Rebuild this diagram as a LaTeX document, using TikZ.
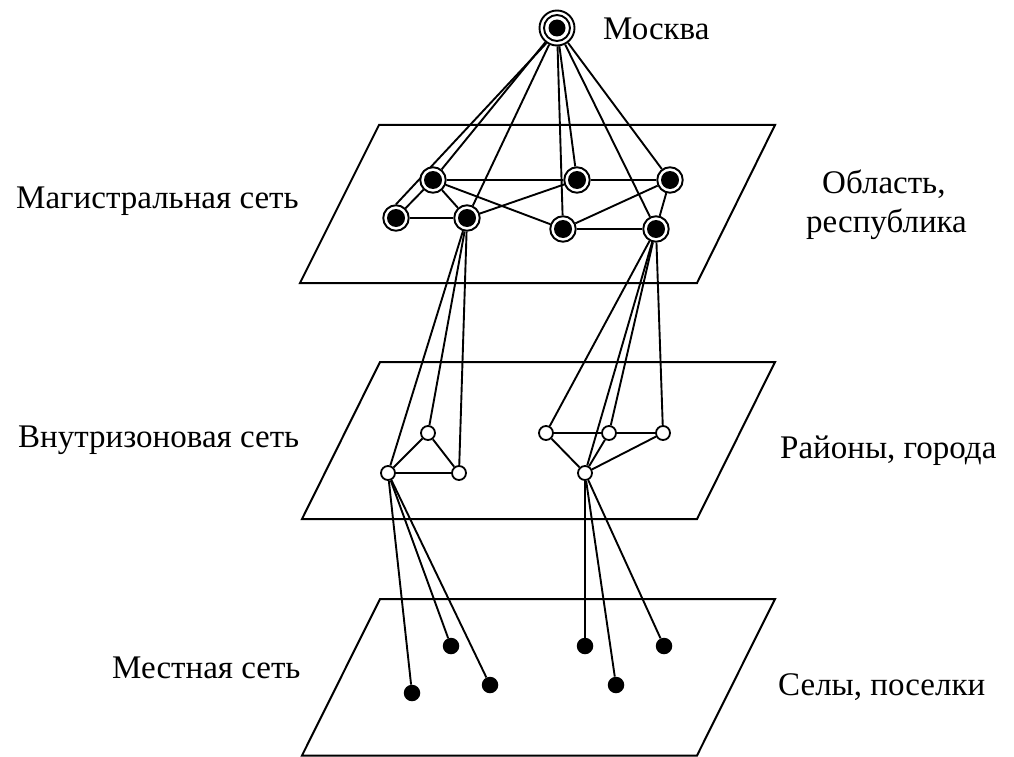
\documentclass[tikz,border=0pt]{standalone}
\usepackage{fontspec}
\setmainfont{Liberation Serif}
\pgfdeclarelayer{bg}
\pgfsetlayers{bg,main}
\begin{document}
\begin{tikzpicture}[x=1pt,y=-1pt,
  plane/.style={draw, line width=2pt, line join=miter},
  link/.style={line width=1.9pt},
  hub/.style={circle, draw, fill=white, line width=1.9pt, minimum size=35pt, inner sep=0pt,
    path picture={\draw[black, line width=1.9pt] (path picture bounding box.center) circle[radius=13pt];
                  \fill[black] (path picture bounding box.center) circle[radius=8.5pt];}},
  region/.style={circle, draw, fill=white, line width=1.9pt, minimum size=25.5pt, inner sep=0pt,
    path picture={\fill[black] (path picture bounding box.center) circle[radius=9pt];}},
  district/.style={circle, draw, fill=white, line width=1.8pt, minimum size=14pt, inner sep=0pt},
  village/.style={circle, fill=black, minimum size=16.5pt, inner sep=0pt},
  caption/.style={font=\fontsize{33}{39}\selectfont, anchor=base west, inner sep=0pt}
]
\useasboundingbox (0,0) rectangle (1014,757);

% three network levels
\draw[plane] (300,283) -- (697,283) -- (775,125) -- (379,125) -- cycle;
\draw[plane] (302,519) -- (697,519) -- (775,362) -- (380,362) -- cycle;
\draw[plane] (302,755.5) -- (697,755.5) -- (775,599) -- (380,599) -- cycle;

% Moscow
\node[hub] (msk) at (557,28) {};

% trunk network nodes
\node[region] (a1) at (433,180) {};
\node[region] (a2) at (396,218) {};
\node[region] (a3) at (467,218) {};
\node[region] (a4) at (577,180) {};
\node[region] (a5) at (670,180) {};
\node[region] (a6) at (563,229) {};
\node[region] (a7) at (656,229) {};

% intrazone network nodes
\node[district] (b1) at (388,473) {};
\node[district] (b2) at (428,433) {};
\node[district] (b3) at (459,473) {};
\node[district] (b4) at (546,433) {};
\node[district] (b5) at (609,433) {};
\node[district] (b6) at (663,433) {};
\node[district] (b7) at (585,473) {};

% local network nodes
\node[village] (c1) at (412,693) {};
\node[village] (c2) at (451,646) {};
\node[village] (c3) at (490,685) {};
\node[village] (c4) at (585,646) {};
\node[village] (c5) at (616,685) {};
\node[village] (c6) at (664,646) {};

\begin{pgfonlayer}{bg}
  % Moscow to the trunk network
  \draw[link] (msk) -- (a1);
  \draw[link] (msk.235) -- (a2.90);
  \draw[link] (msk) -- (a3);
  \draw[link] (msk) -- (a4);
  \draw[link] (msk) -- (a5);
  \draw[link] (msk) -- (a6);
  \draw[link] (msk) -- (a7);
  % trunk network links
  \draw[link] (a1) -- (a4);
  \draw[link] (a4) -- (a5);
  \draw[link] (a1) -- (a2);
  \draw[link] (a2) -- (a3);
  \draw[link] (a1) -- (a3);
  \draw[link] (a3) -- (a4);
  \draw[link] (a1) -- (a6);
  \draw[link] (a6) -- (a7);
  \draw[link] (a6) -- (a5);
  \draw[link] (a5) -- (a7);
  % trunk to intrazone
  \draw[link] (a3) -- (b1);
  \draw[link] (a3) -- (b2);
  \draw[link] (a3) -- (b3);
  \draw[link] (a7) -- (b4);
  \draw[link] (a7) -- (b7);
  \draw[link] (a7) -- (b5);
  \draw[link] (a7) -- (b6);
  % intrazone links
  \draw[link] (b1) -- (b2);
  \draw[link] (b2) -- (b3);
  \draw[link] (b1) -- (b3);
  \draw[link] (b4) -- (b5);
  \draw[link] (b5) -- (b6);
  \draw[link] (b4) -- (b7);
  \draw[link] (b5) -- (b7);
  \draw[link] (b6) -- (b7);
  % intrazone to local
  \draw[link] (b1) -- (c1);
  \draw[link] (b1) -- (c2);
  \draw[link] (b1) -- (c3);
  \draw[link] (b7) -- (c4);
  \draw[link] (b7) -- (c5);
  \draw[link] (b7) -- (c6);
\end{pgfonlayer}

% captions
\node[caption] (tmsk) at (603,40) {Москва};
\node[caption] (t1l) at (16,208) {Магистральная сеть};
\node[caption] (t1r) at (822,193) {Область,};
\node[caption] (t1r2) at (806,232) {республика};
\node[caption] (t2l) at (18,447) {Внутризоновая сеть};
\node[caption] (t2r) at (780,458) {Районы, города};
\node[caption] (t3l) at (112,678) {Местная сеть};
\node[caption] (t3r) at (778,695) {Селы, поселки};
\end{tikzpicture}
\end{document}
